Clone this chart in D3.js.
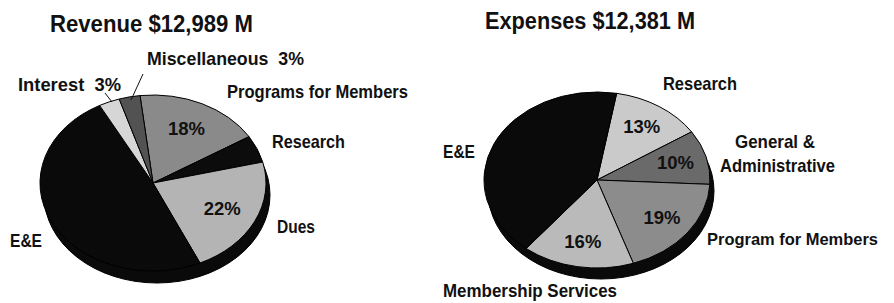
<!DOCTYPE html>
<html>
<head>
<meta charset="utf-8">
<script src="https://cdn.jsdelivr.net/npm/d3@7"></script>
<style>
  body { margin: 0; background: #fff; }
  svg text { font-family: "Liberation Sans", Arial, sans-serif; font-weight: bold; fill: #111; }
</style>
</head>
<body>
<svg id="chart" width="894" height="303"></svg>
<script>
// revenue data (clockwise, starting just right of top)
var revCategories = ["Programs for Members", "Research", "Dues", "E&E", "Interest", "Miscellaneous"];
var revValues = [18, 5, 22, 49, 3, 3];
var revShown = ["18%", "", "22%", "", "", ""];

// expenses data
var expCategories = ["Research", "General & Administrative", "Program for Members", "Membership Services", "E&E"];
var expValues = [13, 10, 19, 16, 42];
var expShown = ["13%", "10%", "19%", "16%", ""];

var revColors = ["#8a8a8a", "#0c0c0c", "#b4b4b4", "#0a0a0a", "#d6d6d6", "#525252"];
var expColors = ["#cacaca", "#6a6a6a", "#8c8c8c", "#bababa", "#0a0a0a"];

var svg = d3.select("#chart");

// condensed look: bigger font squeezed to the width seen in the picture
function label(t, x, y, size, w, anchor) {
  var el = svg.append("text")
    .attr("x", x)
    .attr("y", y)
    .attr("text-anchor", anchor || "start")
    .attr("xml:space", "preserve")
    .style("font-size", size + "px")
    .text(t);
  if (w) el.attr("textLength", w).attr("lengthAdjust", "spacingAndGlyphs");
  return el;
}

function drawPie(opt) {
  var rx = opt.rx, ry = opt.ry;
  var g = svg.append("g");

  // the dark side wall of the 3d pie
  g.append("ellipse")
    .attr("cx", opt.cx + opt.depthX)
    .attr("cy", opt.cy + opt.depthY)
    .attr("rx", rx)
    .attr("ry", ry)
    .attr("fill", "#0a0a0a")
    .attr("stroke", "#000");

  var pie = d3.pie()
    .value(function(d) { return d; })
    .sort(null)
    .startAngle(opt.start)
    .endAngle(opt.start + 2 * Math.PI);

  var arc = d3.arc().innerRadius(0).outerRadius(rx);
  var labelArc = d3.arc().innerRadius(rx * opt.labelR).outerRadius(rx * opt.labelR);

  var face = g.append("g")
    .attr("transform", "translate(" + opt.cx + "," + opt.cy + ") scale(1," + (ry / rx) + ")");

  var arcs = pie(opt.values);

  face.selectAll("path")
    .data(arcs)
    .enter()
    .append("path")
    .attr("d", arc)
    .attr("fill", function(d, i) { return opt.colors[i]; })
    .attr("stroke", "#000")
    .attr("stroke-width", 1)
    .attr("vector-effect", "non-scaling-stroke");

  // percentages inside slices
  arcs.forEach(function(d, i) {
    if (!opt.shown[i]) return;
    var c = labelArc.centroid(d);
    label(opt.shown[i], opt.cx + c[0], opt.cy + c[1] * ry / rx + 6, 18, 37, "middle");
  });

  return g;
}

// titles
label("Revenue $12,989 M", 50, 32, 23, 203);
label("Expenses $12,381 M", 485, 29, 23, 210);

drawPie({
  cx: 153, cy: 183, rx: 113, ry: 88, depthX: 4, depthY: 12,
  start: -0.115, labelR: 0.68,
  values: revValues, colors: revColors, shown: revShown
});

drawPie({
  cx: 597, cy: 180, rx: 113, ry: 88, depthX: 4, depthY: 11,
  start: 0.175, labelR: 0.72,
  values: expValues, colors: expColors, shown: expShown
});

// outside labels
label(revCategories[5] + "  " + revValues[5] + "%", 147, 65, 19, 157);
label(revCategories[4] + "  " + revValues[4] + "%", 18, 91, 19, 103);
label(revCategories[0], 227, 98, 19, 181);
label(revCategories[1], 272, 148, 19, 73);
label(revCategories[2], 277, 233, 19, 38);
label(revCategories[3], 10, 247, 19, 32);

label(expCategories[0], 663, 90, 19, 74);
label("General &", 735, 148, 19, 80);
label("Administrative", 720, 172, 19, 115);
label(expCategories[2], 707, 245, 17, 171);
label(expCategories[3], 443, 297, 19, 174);
label(expCategories[4], 443, 158, 19, 32);

// leader lines for the two small slices
svg.append("line").attr("x1", 105).attr("y1", 93).attr("x2", 112).attr("y2", 102).attr("stroke", "#111");
svg.append("line").attr("x1", 143).attr("y1", 74).attr("x2", 131).attr("y2", 100).attr("stroke", "#111");
</script>
</body>
</html>
